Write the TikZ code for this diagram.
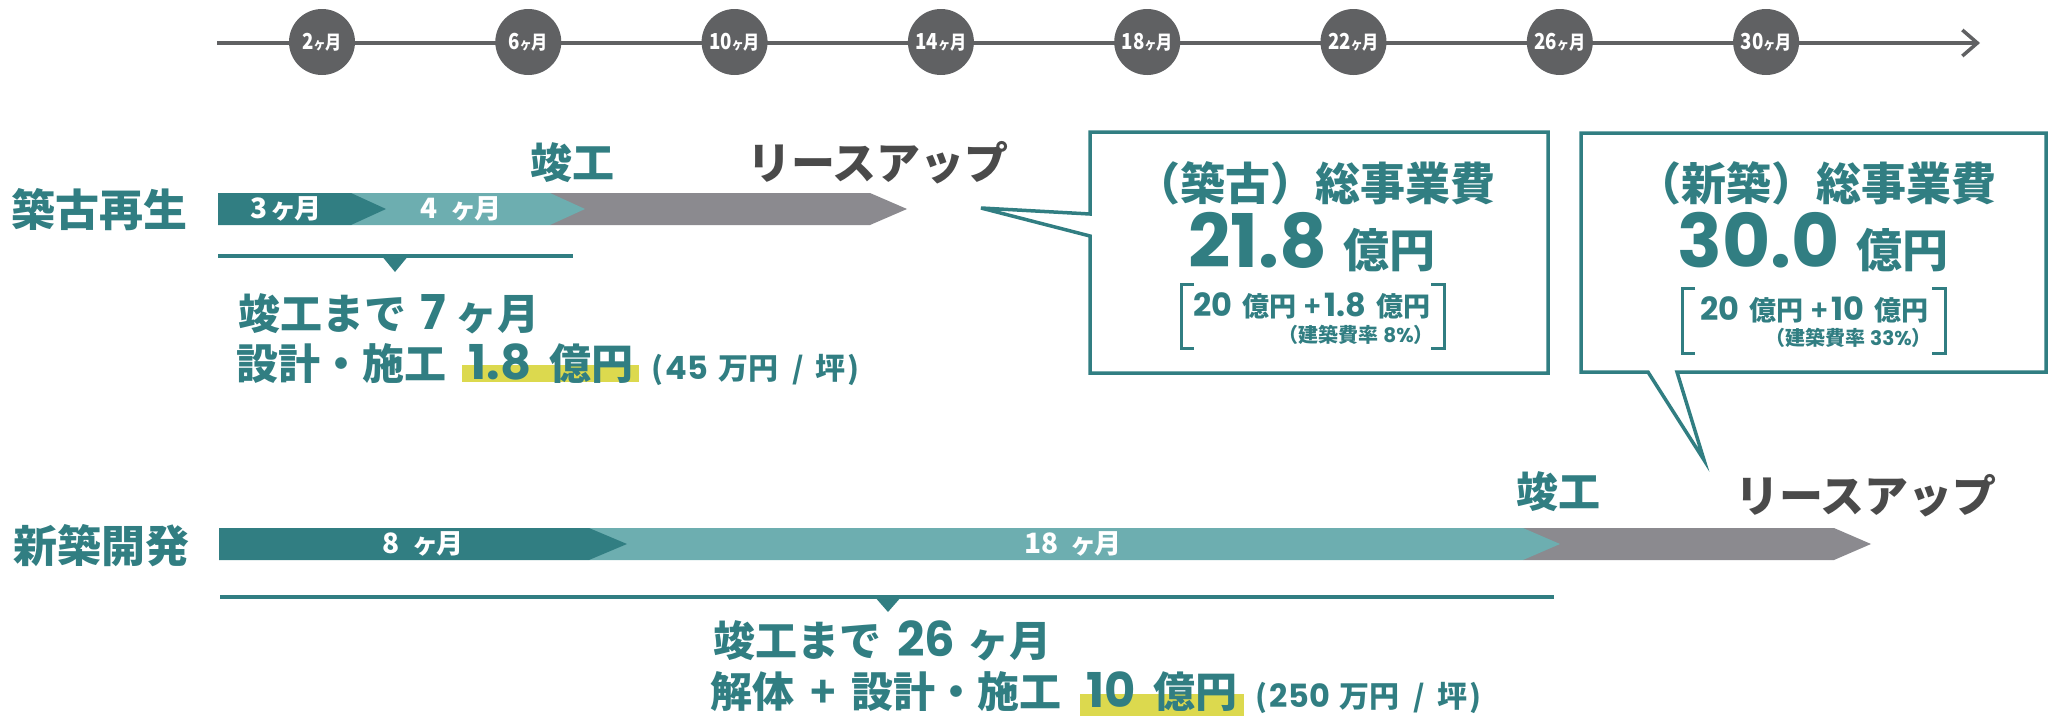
\documentclass[tikz,border=0pt]{standalone}
\usepackage{fontspec}
\setmainfont{Noto Sans CJK JP}
\newfontfamily\num{Poppins}
\usetikzlibrary{arrows.meta,calc}
\definecolor{teal1}{HTML}{317E82}
\definecolor{teal2}{HTML}{6DAEB0}
\definecolor{barg}{HTML}{8B8A8F}
\definecolor{circg}{HTML}{606163}
\definecolor{hlc}{HTML}{DCD94E}
\definecolor{dg}{HTML}{4A4A4A}
\newcommand\fsz[1]{\fontsize{#1}{#1}\selectfont}
\pgfdeclarelayer{bg}\pgfsetlayers{bg,main}
\begin{document}
\begin{tikzpicture}[x=1pt,y=-1pt,
  month/.style={circle,fill=circg,minimum size=66pt,inner sep=0pt,text=white,font=\bfseries},
  barlbl/.style={text=white,inner sep=0pt,font=\bfseries\fsz{28}},
  tt/.style={text=teal1,inner sep=0pt,font=\bfseries},
  gt/.style={text=dg,inner sep=0pt,font=\bfseries\fsz{44}},
  tline/.style={draw=teal1,line width=3.5pt},
  callout/.style={draw=teal1,fill=white,line width=3.5pt,line join=miter},
  brk/.style={draw=teal1,line width=3pt},
  hl/.style={fill=hlc}]
\useasboundingbox (0,0) rectangle (2051,723);

% timeline
\coordinate (tlS) at (217,43);
\coordinate (tlE) at (1980,43);
\draw[circg,line width=3.5pt,-{Straight Barb[length=15pt,width=26pt,line width=3.5pt]}] (tlS) -- (tlE);
\foreach \m [count=\i from 0] in {2,6,10,14,18,22,26,30}
  \node[month] (m\m) at ({322+206.3*\i},42) {\scalebox{0.85}[1]{\fsz{22}\m{\fsz{14}ヶ}{\fsz{19}月}}};

% row labels
\node[tt,font=\bfseries\fsz{44}] (kochiku) at (100,210) {築古再生};
\node[tt,font=\bfseries\fsz{44}] (shinchiku) at (101,546) {新築開発};

% row 1 bars
\fill[barg] (550,193) -- (870,193) -- (907,209) -- (870,225) -- (550,225) -- cycle;
\fill[teal2] (351,193) -- (550,193) -- (585,209) -- (550,225) -- (351,225) -- cycle;
\fill[teal1] (218,193) -- (351,193) -- (386,209) -- (351,225) -- (218,225) -- cycle;
\node[barlbl] (b3) at (286,209) {3\hspace{3pt}{\fsz{26}ヶ}\hspace{-2pt}{\fsz{27}月}};
\node[barlbl] (b4) at (461,209) {4\hspace{12pt}{\fsz{26}ヶ}\hspace{-2pt}{\fsz{27}月}};
\node[tt,font=\bfseries\fsz{42}] (kk1) at (572,163) {竣工};
\node[gt] (lu1) at (878,163) {リースアップ};

% row 1 brace
\draw[tline] (218,256) coordinate (br1a) -- (573,256) coordinate (br1b);
\fill[teal1] (381,255) -- (409,255) -- (395,272) -- cycle;

% row 1 text
\node[tt,anchor=base west,font=\bfseries\fsz{42}] (r1a) at (238,329) {竣工まで\hspace{14pt}{\num\fsz{48}7}\hspace{10pt}ヶ月};
\node[tt,anchor=base west,font=\bfseries\fsz{42}] (r1c) at (236,379) {設計・施工};
\node[tt,anchor=base west,font=\bfseries\fsz{42}] (r1h) at ([xshift=22pt]r1c.base east) {{\num\fsz{48}1.8}\hspace{18pt}億円};
\node[tt,anchor=base west,font=\bfseries\fsz{30}] (r1p) at ([xshift=18pt]r1h.base east) {(\hspace{2pt}{\num\fsz{32}45}\hspace{10pt}万円\hspace{14pt}/\hspace{12pt}坪\hspace{2pt})};
\begin{pgfonlayer}{bg}
\fill[hl] ($(r1h.base west)+(-6,-14)$) rectangle ($(r1h.base east)+(6,3)$);
\end{pgfonlayer}

% row 2 bars
\fill[barg] (1523,528) -- (1834,528) -- (1871,544) -- (1834,560) -- (1523,560) -- cycle;
\fill[teal2] (589,528) -- (1523,528) -- (1560,544) -- (1523,560) -- (589,560) -- cycle;
\fill[teal1] (219,528) -- (589,528) -- (627,544) -- (589,560) -- (219,560) -- cycle;
\node[barlbl] (b8) at (423,544) {8\hspace{12pt}{\fsz{26}ヶ}\hspace{-2pt}{\fsz{27}月}};
\node[barlbl] (b18) at (1073,544) {18\hspace{12pt}{\fsz{26}ヶ}\hspace{-2pt}{\fsz{27}月}};
\node[tt,font=\bfseries\fsz{42}] (kk2) at (1558,492) {竣工};
\node[gt] (lu2) at (1866,496) {リースアップ};

% row 2 brace
\draw[tline] (220,597) coordinate (br2a) -- (1554,597) coordinate (br2b);
\fill[teal1] (874,596) -- (902,596) -- (888,612) -- cycle;

% row 2 text
\node[tt,anchor=base west,font=\bfseries\fsz{42}] (r2a) at (713,656) {竣工まで\hspace{16pt}{\num\fsz{48}26}\hspace{12pt}ヶ月};
\node[tt,anchor=base west,font=\bfseries\fsz{42}] (r2c) at (710,707) {解体\hspace{16pt}+\hspace{16pt}設計・施工};
\node[tt,anchor=base west,font=\bfseries\fsz{42}] (r2h) at ([xshift=24pt]r2c.base east) {{\num\fsz{48}10}\hspace{18pt}億円};
\node[tt,anchor=base west,font=\bfseries\fsz{30}] (r2p) at ([xshift=18pt]r2h.base east) {(\hspace{2pt}{\num\fsz{32}250}\hspace{10pt}万円\hspace{14pt}/\hspace{12pt}坪\hspace{2pt})};
\begin{pgfonlayer}{bg}
\fill[hl] ($(r2h.base west)+(-6,-13)$) rectangle ($(r2h.base east)+(6,9)$);
\end{pgfonlayer}

% callout 1
\coordinate (t1) at (981,208);
\draw[callout] (1090,236) -- (1090,373) -- (1548,373) -- (1548,132) -- (1090,132) -- (1090,214) -- (t1) -- cycle;
\node[tt,font=\bfseries\fsz{45}] (c1t) at (1315,183) {（築古）総事業費};
\node[tt,anchor=base] (c1n) at (1312,267) {{\num\bfseries\fsz{74}21.8}\hspace{16pt}{\fsz{46}億円}};
\draw[brk] (1194,284) -- (1181,284) -- (1181,348) -- (1194,348);
\draw[brk] (1431,284) -- (1444,284) -- (1444,348) -- (1431,348);
\node[tt,anchor=base east,font=\bfseries\fsz{27}] (c1a) at (1321,316) {{\num\fsz{32}20}\hspace{10pt}億円\hspace{8pt}+};
\node[tt,anchor=base west,font=\bfseries\fsz{27}] (c1h) at (1324,316) {{\num\fsz{32}1.8}\hspace{10pt}億円};
\node[tt,anchor=base east,font=\bfseries\fsz{20}] (c1r) at (1434,342) {（建築費率\ {\num 8\%}）};
\begin{pgfonlayer}{bg}
\fill[hl] ($(c1h.base west)+(-1,-9)$) rectangle ($(c1h.base east)+(2,4)$);
\end{pgfonlayer}

% callout 2
\coordinate (t2) at (1704,460);
\draw[callout] (1677,372) -- (2046,372) -- (2046,133) -- (1581,133) -- (1581,372) -- (1648,372) -- (t2) -- cycle;
\node[tt,font=\bfseries\fsz{45}] (c2t) at (1816,183) {（新築）総事業費};
\node[tt,anchor=base] (c2n) at (1813,267) {{\num\bfseries\fsz{74}30.0}\hspace{16pt}{\fsz{46}億円}};
\draw[brk] (1695,288) -- (1682,288) -- (1682,353) -- (1695,353);
\draw[brk] (1932,288) -- (1945,288) -- (1945,353) -- (1932,353);
\node[tt,anchor=base east,font=\bfseries\fsz{27}] (c2a) at (1828,320) {{\num\fsz{32}20}\hspace{10pt}億円\hspace{8pt}+};
\node[tt,anchor=base west,font=\bfseries\fsz{27}] (c2h) at (1831,320) {{\num\fsz{32}10}\hspace{10pt}億円};
\node[tt,anchor=base east,font=\bfseries\fsz{20}] (c2r) at (1932,345) {（建築費率\ {\num 33\%}）};
\begin{pgfonlayer}{bg}
\fill[hl] ($(c2h.base west)+(-1,-9)$) rectangle ($(c2h.base east)+(2,4)$);
\end{pgfonlayer}
\end{tikzpicture}
\end{document}
